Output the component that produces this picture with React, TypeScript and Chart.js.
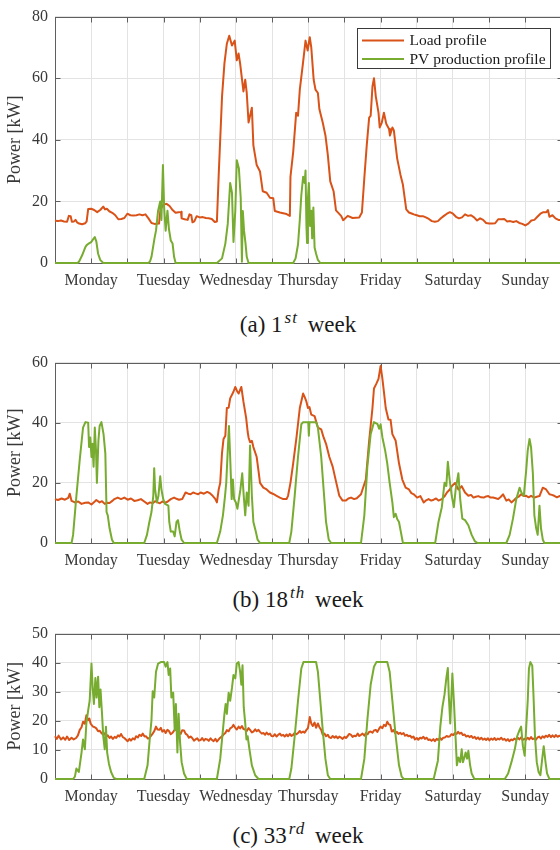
import React, { useEffect, useRef } from 'react';
import { Chart, registerables } from 'chart.js';

Chart.register(...registerables);

// ---------- data ----------
const DAYS = ['Monday', 'Tuesday', 'Wednesday', 'Thursday', 'Friday', 'Saturday', 'Sunday'];
const SERIES_LABELS = ['Load profile', 'PV production profile'];
const Y_MAX = [80, 60, 50];
const Y_STEP = [20, 20, 10];
const CAPTION_TAGS = ['(a)', '(b)', '(c)'];
const CAPTION_NUMS = ['1', '18', '33'];
const CAPTION_SUPS = ['st', 'th', 'rd'];

// [hour of week, kW]
const week1Load: [number, number][] = [[0,13.7],[1,13.6],[2,13.8],[3,13.5],[4,13.4],[4.6,15.3],[5.2,15.2],[5.6,13.4],[6.3,13.5],[6.8,14],[7.3,13.2],[8,12.8],[9,12.6],[10,12.9],[10.5,13.5],[11,17.5],[12,17.6],[13,17.2],[14,16.5],[15,17.2],[16,18.3],[16.6,17.4],[17.2,17.6],[18,16.8],[19,16.3],[20,15.5],[21,14.2],[22,14.3],[23,14.6],[24,16],[25,15.5],[26,15.4],[27,15.5],[28,15.8],[29,15.5],[30,15.8],[31,14.5],[32,13],[33,12.7],[34.5,12.8],[35,17.5],[36,19],[37,19.2],[38,18.5],[39,17.2],[40,16.3],[41,16.5],[41.8,16.6],[42,14.5],[43,14.2],[44,14],[44.6,15.8],[45.2,15.5],[45.6,13.2],[46.2,13.5],[47,15.2],[48,14.8],[49,14.9],[50,14.6],[51,14.5],[52,14.3],[53,13.3],[53.7,13.5],[54.3,28.6],[55.4,54],[56.2,64.8],[57,71.2],[57.8,73.8],[58.7,70.6],[59.6,72.2],[60.3,65.8],[60.9,68],[61.4,64.8],[62.5,55.7],[63.1,59.5],[63.6,55.2],[64.2,45.6],[65.3,50.4],[65.8,38.2],[66.9,31.8],[68,29.7],[68.9,23.3],[70.2,22.8],[71.3,21.2],[72.4,21],[72.9,16.9],[74.6,16.4],[76.8,15.9],[77.9,15.3],[78.1,28],[79,36],[80,48.8],[80.6,47.8],[81.2,56.3],[82.3,65.3],[83.1,72.2],[83.8,69],[84.5,73.3],[85,70],[85.8,59.5],[86.4,56.3],[87.2,55.2],[87.7,49.9],[88.8,45.6],[89.7,41.4],[90.5,35],[91.3,26.5],[92.4,23.3],[93.2,17.1],[94.9,15.3],[95.6,13.9],[97.1,15.3],[98.7,14.6],[100.9,14.8],[101.8,16.4],[102.6,27.6],[103.4,38.2],[104.2,47.2],[104.7,47.8],[105.3,57.3],[105.8,60],[106.4,54.1],[107.3,48.8],[107.7,44],[108.4,45.6],[109.1,48.8],[109.9,45.1],[110.8,43.5],[111.1,41.4],[111.9,44],[112.4,43],[113.5,33.9],[114.6,28.6],[115.4,25.4],[116.5,17.4],[117.4,16.4],[118.5,16],[119,15.8],[120,15.5],[121,15.2],[122,15.2],[123,14.8],[124,14.3],[125,13.6],[126,13.4],[127,13.6],[128,14.5],[129,15.3],[130,16],[131,16.5],[132,16],[133,15],[134,14.5],[135,14.8],[136,15.8],[137,15.3],[138,15.5],[139,14.8],[140,13.8],[141,14.5],[142,14],[143,13],[144,12.8],[145,12.8],[146,12.9],[147,14.2],[148,14.2],[149,14.3],[150,13.5],[151,13.6],[152,13.3],[153,13.6],[154,13],[155,12.7],[156,12.2],[157,12.8],[158,13.8],[159,14],[160,15],[161,16],[162,16.5],[163,16.5],[163.5,17.2],[164,15],[165,15.5],[166,14.5],[167,14],[168,14]];

const week1Pv: [number, number][] = [[0,0],[7.5,0],[8,0.5],[9,2.5],[10,5],[10.5,5.8],[11,6.2],[12,6.8],[12.5,7.5],[13.2,8.4],[13.7,7],[14.3,3],[15,1],[16,0],[31,0],[31.5,0.5],[32,2],[33,8],[33.5,10.5],[34.2,17],[34.9,20],[35.3,14],[35.8,31.8],[36.2,18],[36.7,10.5],[37.3,17],[37.8,11],[38.4,7.3],[39,6.3],[39.5,2],[40,0],[53.7,0],[55.4,1.5],[56.5,6.3],[57.3,12.7],[58.1,26],[58.7,22.8],[59.2,6.8],[59.8,16.9],[60.3,33.4],[61,30.7],[61.6,21.2],[62,0.4],[62.3,16.9],[62.7,10.5],[63.2,6.3],[63.6,2],[64.2,0],[79,0],[79.8,1.5],[80.6,6],[81.2,14],[81.7,22],[82.3,28],[82.8,26],[83.1,30],[83.4,12],[83.6,6.5],[83.9,21],[84.2,26],[84.6,12],[85,17],[85.3,8],[85.7,18],[86.1,5],[86.6,3],[87.2,1],[88,0],[168,0]];

const week18Load: [number, number][] = [[0,14.6],[1,14.3],[2.2,14.8],[3.3,14.4],[4.4,15],[4.9,16.4],[5.5,14],[6.6,13.5],[7.7,13.8],[8.8,13],[10,13.4],[11,13.5],[12.1,12.8],[13,13.6],[13.7,14.3],[14.8,13.5],[15.6,13.9],[16.5,13],[17.3,13.4],[18.1,13.3],[19,14],[19.7,14.6],[20.8,15.1],[21.9,14.6],[23,15.1],[24.1,14.4],[25.2,14.8],[26.3,14],[27.4,14.2],[28.5,14.6],[29.6,13.8],[30.7,13],[31.5,13.5],[32.4,13.2],[33.2,13.9],[34,13.5],[34.8,13.2],[35.6,13.8],[36.5,13.4],[37.3,13.7],[38.4,14.6],[39.5,15.1],[40.3,14.7],[41.1,14.4],[42.2,14.6],[43.3,16.8],[44.2,16.4],[45,16.2],[45.8,16.8],[46.6,16.5],[47.5,16.2],[48.3,16.8],[49.4,16.4],[50.5,17],[51.3,16.6],[52.1,15.9],[53.2,14.6],[53.7,13.5],[54.3,17.8],[54.8,20],[55.4,30],[55.9,34.6],[56.5,35.7],[57,44.9],[57.6,45],[58.1,48.1],[59.2,50.3],[59.8,51.9],[60.4,50.5],[60.9,49.7],[61.8,51.9],[62.5,47],[63.4,41.6],[63.9,37],[64.2,35.1],[64.7,33.5],[65.3,34],[65.8,31.9],[66.9,28.6],[67.5,24],[68,20],[69.1,18.4],[70.2,17.8],[71.3,16.8],[72.4,16.3],[73.5,15.7],[74.6,15.1],[75.7,14.6],[76.8,14.6],[77.3,15.7],[78.1,20],[79,26.5],[80.1,35.1],[81.2,44.9],[82.3,49.7],[82.8,48.6],[83.4,47],[83.9,44.9],[84.4,45.2],[85,42.7],[86.1,42.2],[87.2,38.4],[88.3,37.8],[89.1,35.1],[89.9,33],[91,28.6],[92.1,25.4],[93.2,20.5],[94.3,15.7],[95.4,14.1],[96.5,14.1],[97.3,14.8],[98.2,15.1],[99.2,14.6],[100.1,14.9],[101.5,16.2],[102,17.8],[103.1,21.1],[104.2,34],[105.3,44.9],[105.8,51.4],[106.6,53],[107.3,54.6],[108,58.9],[108.6,54.6],[109.1,50.3],[109.7,44.9],[110.6,41.1],[111.3,41],[111.9,36.2],[113,34],[114.1,26.5],[115.2,21.1],[116.3,18.4],[117.4,17.8],[118.2,16.6],[119,16.2],[120.1,15.1],[121.2,15.6],[122.3,13.5],[123.1,14.2],[123.9,14.6],[124.8,14.1],[125.6,14.4],[126.4,14.8],[127.2,14.1],[128.3,14.6],[129.2,15.5],[130,16.8],[130.8,17.6],[131.6,18.9],[132.7,20],[133.8,17.8],[134.9,18.9],[136,16.8],[137.1,15.7],[138,16],[138.8,15.1],[139.6,15.4],[140.4,15.6],[141.3,15.2],[142.2,15.1],[143,15.5],[143.7,15.6],[144.5,15.1],[145.3,15.1],[146.2,14.9],[147,14.6],[147.8,15.3],[148.6,16.2],[149.7,14.1],[150.5,14.5],[151.4,13.5],[152.2,14.2],[153,15],[153.8,15.4],[154.6,16.2],[155.5,15.6],[156.3,15.7],[157.1,15.2],[157.9,15.7],[159,15.1],[159.8,15.4],[160.7,15.6],[161.8,18.4],[162.9,17.8],[164,16.2],[164.8,16],[165.6,15.7],[166.5,15.2],[167.3,15.6],[168,15.5]];

const week18Pv: [number, number][] = [[0,0],[5.5,0],[6,2.7],[7.1,15.7],[8.2,27.6],[9.3,38.4],[10.1,40.2],[11,40],[11.3,31.9],[11.7,35.1],[12.1,28.6],[12.4,33],[12.8,25.4],[13.2,38.4],[13.6,30.8],[13.9,20],[14.4,34],[14.8,38.9],[15.4,40.2],[16.1,36.2],[16.7,29.7],[17.1,10.3],[17.5,9.2],[18.1,4.9],[18.9,1.1],[19.5,0],[29.6,0],[30.5,2.7],[31.3,7],[32,10.3],[32.6,15.7],[32.9,24.9],[33.2,17.8],[33.8,13.5],[34.3,15.6],[34.9,22.2],[35.3,17.8],[35.9,14.6],[36.5,13],[37.6,12.4],[37.9,7],[38.4,3.8],[39.2,3.8],[39.7,2.2],[40.3,7],[40.8,7.6],[41.4,3.8],[42,1.1],[42.8,0],[53.7,0],[54.8,3.8],[55.7,9.2],[56.4,15.7],[56.8,20],[57.3,30.8],[57.7,38.9],[58.1,28.6],[58.6,14.6],[59,21.1],[59.4,14.6],[60,13.5],[60.5,11.4],[61,14.6],[61.5,17.8],[62.1,23.2],[62.6,15.7],[63.1,9.2],[63.6,16.8],[64.2,12.4],[64.7,32.4],[65.3,15.7],[65.8,7],[66.6,3.8],[67.2,1.1],[68,0],[77.7,0],[78.4,3.8],[79.5,15.7],[80.6,28.6],[81.7,39.5],[82.3,40.2],[84,40.2],[84.2,35.7],[84.4,40.2],[86.6,40.2],[87.2,38.4],[88.3,28.6],[89.1,17.8],[89.9,7],[90.8,1.1],[91.6,0],[101.5,0],[102.6,9.2],[103.6,25.4],[104.7,36.2],[105.8,40.2],[107,39.5],[107.5,38],[108,39.5],[108.6,35.1],[109.5,30.8],[110.2,26.5],[111,20],[111.9,13.5],[112.4,8.6],[113,9.7],[113.5,8],[114.1,7],[114.7,3.8],[115.4,0],[126.1,0],[127.2,7],[128.3,11.9],[129.2,20],[129.8,19],[130.3,27],[130.9,21.1],[131.6,15.7],[132.3,11.9],[132.9,17.8],[133.8,23.2],[134.4,14.6],[135.1,8.1],[136,7.6],[137.1,5.9],[138.2,2.7],[139.3,0.5],[140.2,0],[149.7,0],[150.8,2.7],[151.9,8.1],[153,14.6],[154.1,18.4],[154.7,16.8],[155.5,15.7],[156.3,24.3],[156.8,30.8],[157.4,34.6],[157.9,31.9],[158.5,23.2],[159,9.2],[159.6,4.9],[160.1,2.7],[160.7,12.4],[161.2,4.9],[161.8,1.1],[162.3,0],[168,0]];

const week33Load: [number, number][] = [[0,14.7],[0.6,13.8],[1.2,14.9],[2,13.6],[2.7,14.3],[3.4,13.5],[4,14.6],[4.7,13.4],[5.5,14.2],[6.2,13.6],[7,14.1],[7.6,15],[8.2,16.9],[8.8,17.8],[9.3,19.7],[9.9,19],[10.4,21.9],[11,20.2],[11.4,20.8],[11.8,19.1],[12.2,18.5],[12.6,18],[13.2,17.8],[13.7,17.4],[14.3,16.4],[14.8,16.6],[15.4,15.8],[16,15.2],[16.5,15.7],[17,14.6],[17.5,15],[18.1,14.1],[18.6,14.6],[19.2,13.8],[19.8,14.5],[20.3,14.1],[20.9,15],[21.4,14.6],[21.9,15.5],[22.5,14.4],[23,14.1],[23.6,13.5],[24.1,13],[24.7,13.8],[25.2,13.2],[25.8,14],[26.4,13.6],[26.9,14.7],[27.5,14.3],[28,15.2],[28.6,14.8],[29.1,15.6],[29.7,14.6],[30.2,14.7],[30.8,13.9],[31.3,14.1],[31.9,14.9],[32.4,15.6],[32.9,16.4],[33.5,18],[34,17],[34.6,16.9],[35.1,17.6],[35.6,16.3],[36.2,16.8],[36.7,15.8],[37.3,16.9],[37.8,16.5],[38.4,15.4],[38.9,15.8],[39.5,16.6],[40,17.4],[40.5,16.2],[41.1,16.3],[41.7,15.5],[42.2,16.8],[42.8,16.7],[43.3,15.6],[43.9,15.1],[44.4,14.2],[45,14.6],[45.5,14.1],[46.1,13.2],[46.6,13.6],[47.2,14],[47.7,13.2],[48.3,13.4],[48.8,14.1],[49.4,13.2],[49.9,13.8],[50.5,13.6],[51,13.1],[51.6,14],[52.1,13.4],[52.6,13],[53.2,13.8],[53.7,12.9],[54.3,13.6],[54.8,14.2],[55.4,14.7],[55.9,15.3],[56.5,15.8],[57,16.8],[57.6,16.4],[58.1,17.4],[58.7,17.8],[59.2,18.6],[59.8,17.6],[60.3,17],[60.9,18],[61.4,17.4],[62,18.2],[62.5,17.2],[63.1,17],[63.6,16.5],[64.2,17.5],[64.7,16.9],[65.3,16],[65.8,16.3],[66.4,17.1],[66.9,16.4],[67.5,16.9],[68,16.2],[68.6,15.6],[69.1,15.8],[69.7,15.2],[70.2,16],[70.7,15.3],[71.3,15.6],[71.8,14.8],[72.4,14.7],[72.9,15.4],[73.5,14.6],[74,15.2],[74.6,15.6],[75.1,14.9],[75.7,15.2],[76.2,14.6],[76.8,15.3],[77.3,14.7],[77.9,15.5],[78.4,14.8],[79,15.2],[79.5,15.9],[80.1,15.4],[80.6,15.8],[81.2,16.5],[81.7,15.9],[82.3,16.3],[82.8,15.9],[83.4,16.9],[83.9,17.5],[84.5,21.3],[85,19.1],[85.5,18.2],[86.1,19.4],[86.6,17.6],[87.2,19.1],[87.7,17.8],[88.3,16.9],[88.8,15.2],[89.4,15.6],[89.9,14.7],[90.5,15.2],[91,14.3],[91.6,14.1],[92.1,14.8],[92.7,14.2],[93.2,14.7],[93.8,14],[94.3,14.6],[94.9,14.2],[95.4,13.8],[96,14.5],[96.5,14.1],[97.1,14.8],[97.6,15.5],[98.2,15.2],[98.7,14.5],[99.3,14.9],[99.8,14.7],[100.4,15.6],[100.9,14.8],[101.5,15.2],[102,15.6],[102.6,14.9],[103.1,15.8],[103.7,15.4],[104.2,16.2],[104.7,16.3],[105.3,15.9],[105.8,16.7],[106.4,16.9],[106.9,16.2],[107.5,17.3],[108,18],[108.6,17.5],[109.1,18.6],[109.7,18.2],[110.2,19.7],[110.7,18.8],[111.2,18.6],[111.7,16.3],[112.3,16.8],[112.8,15.8],[113.4,16.2],[113.9,15.5],[114.5,15.9],[115,15.4],[115.6,15.8],[116.1,14.9],[116.7,15.2],[117.2,14.7],[117.8,14.9],[118.3,14.2],[118.9,14.6],[119.4,13.6],[120,14.1],[120.5,13.5],[121.1,14.2],[121.6,13.9],[122.2,14.5],[122.7,13.8],[123.3,14.2],[123.8,13.4],[124.4,13.6],[124.9,13.1],[125.5,13.7],[126,13],[126.6,13.8],[127.1,13.4],[127.7,14.1],[128.2,13.5],[128.8,14.2],[129.3,14.3],[129.9,14.8],[130.4,14.5],[131,14.7],[131.5,15.4],[132.1,15.1],[132.6,15.8],[133.2,15.5],[133.7,16.2],[134.2,15.6],[134.8,15.9],[135.3,15.1],[135.9,15.3],[136.4,14.6],[137,14.9],[137.5,14.4],[138.1,14.8],[138.6,14.1],[139.2,14.5],[139.7,13.8],[140.3,14.3],[140.8,13.6],[141.4,14.2],[141.9,13.5],[142.5,13.9],[143,13.4],[143.6,14],[144.1,13.3],[144.7,13.9],[145.2,13.5],[145.8,14.1],[146.3,13.4],[146.9,13.9],[147.4,13.6],[148,14.2],[148.5,13.5],[149.1,13.8],[149.6,13.2],[150.2,13.7],[150.7,13],[151.3,13.6],[151.8,13.3],[152.4,13.9],[152.9,13.5],[153.5,14.2],[154,13.6],[154.6,14.3],[155.1,13.4],[155.7,13.8],[156.2,13.5],[156.8,14.2],[157.3,13.6],[157.9,14.4],[158.4,13.7],[159,14],[159.5,13.5],[160.1,14.3],[160.6,14.6],[161.2,13.9],[161.7,14.7],[162.3,14.2],[162.8,14.9],[163.4,14.5],[163.9,15.2],[164.5,14.4],[165,15],[165.6,14.4],[166.1,15.1],[166.7,14.5],[167.2,14.9],[168,14.6]];

const week33Pv: [number, number][] = [[0,0],[6,0],[6.6,0.8],[7.1,3.6],[7.9,2.4],[8.8,9.1],[9.3,13.6],[9.9,10.2],[10.4,19.1],[11,23.6],[11.5,26.9],[12.1,39.7],[12.5,31.3],[12.9,25.8],[13.4,34.7],[13.8,28],[14.3,35.2],[14.7,24.7],[15.1,30.8],[15.6,22.4],[16,14.7],[16.5,10.2],[16.9,18],[17.3,9.1],[17.9,5.2],[18.6,2.4],[19.5,0.4],[20.3,0],[29.6,0],[30.7,4.7],[31.5,14.7],[32,20.2],[32.4,30.2],[32.9,28],[33.5,36.9],[34.2,39.7],[35.1,40.2],[36.2,40.2],[36.7,38.6],[37.3,40.2],[37.7,35.8],[38.2,38],[38.6,28],[39.2,29.7],[39.7,16.9],[40.1,25.8],[40.6,9.1],[41,22.4],[41.5,12.4],[42,5.8],[42.8,1.9],[43.7,0],[53.7,0],[54.8,6.9],[55.6,15.8],[56.2,22.4],[56.6,25.8],[57,22.4],[57.6,29.7],[58.1,26.9],[58.7,31.3],[59.2,35.8],[59.8,34.6],[60.3,39.7],[60.9,40.2],[61.4,36.9],[61.8,32.4],[62.2,39.1],[62.6,24.7],[63.1,19.1],[63.5,13.6],[63.9,14.7],[64.5,10.2],[65.3,4.7],[66.4,1.3],[67.5,0],[77.7,0],[78.4,3.6],[79.5,14.7],[80.6,26.9],[81.7,38],[82.4,40.2],[86.6,40.2],[87.2,36.9],[88,26.9],[88.8,16.9],[89.7,6.9],[90.5,1.3],[91.3,0],[101.5,0],[102.6,6.9],[103.6,20.2],[104.7,32.4],[105.8,38.6],[106.6,40.2],[110.2,40.2],[111,36.9],[111.9,26.9],[113,14.7],[114.1,4.7],[115,0.8],[115.7,0],[125.6,0],[126.4,3.6],[127,6.3],[127.8,18],[128.5,24.7],[129.2,29.1],[129.8,34.7],[130.3,38.2],[130.6,29],[131.1,19.1],[131.5,29],[131.8,36.3],[132.3,26.9],[132.7,18],[133.3,4.7],[133.8,7.4],[134.4,5.8],[134.9,10.2],[135.3,5.8],[135.8,7.4],[136.2,9.1],[136.7,7],[137.1,9.7],[137.7,4.7],[138.2,1.9],[139.1,0],[149.2,0],[150.3,1.9],[151.4,5.8],[152.5,10.2],[153.3,14.7],[154.1,16.9],[154.6,18],[155.2,11.3],[155.8,8],[156.3,18],[156.8,26.9],[157.2,38],[157.7,40.2],[158.3,39],[158.7,29.1],[159.2,14.7],[159.8,5.8],[160.4,2.4],[161,1.3],[161.6,6.9],[162.1,11.3],[162.7,5.8],[163.2,1.9],[164,0],[168,0]];

const LOADS = [week1Load, week18Load, week33Load];
const PVS = [week1Pv, week18Pv, week33Pv];

// ---------- styling / layout ----------
const FONT = "'Liberation Serif', 'Times New Roman', serif";
const LOAD_COLOR = '#D95319';
const PV_COLOR = '#77AC30';
const AXIS_COLOR = '#5f5f5f';
const GRID_COLOR = '#e3e3e3';
const TEXT_COLOR = '#383838';
const CANVAS_W = 570;
const PANELS = [
  { top: 0, height: 293 },
  { top: 346, height: 227 },
  { top: 617, height: 192 },
];
const CAPTION_TOPS = [312.5, 588, 823.5];

const framePlugin = {
  id: 'frame',
  beforeDatasetsDraw(chart: any) {
    const { ctx, chartArea: a } = chart;
    const xs = chart.scales.x;
    const ys = chart.scales.y;
    const L = Math.round(a.left) + 0.5;
    const R = Math.round(a.right) + 0.5;
    const T = Math.round(a.top) + 0.5;
    const B = Math.round(a.bottom) + 0.5;
    const tl = 5;
    ctx.save();
    ctx.strokeStyle = AXIS_COLOR;
    ctx.lineWidth = 1;
    ctx.strokeRect(L, T, R - L, B - T);
    ctx.beginPath();
    xs.ticks.forEach((t: any) => {
      const p = Math.round(xs.getPixelForValue(t.value)) + 0.5;
      ctx.moveTo(p, T); ctx.lineTo(p, T + tl);
      ctx.moveTo(p, B); ctx.lineTo(p, B - tl);
    });
    ys.ticks.forEach((t: any) => {
      const p = Math.round(ys.getPixelForValue(t.value)) + 0.5;
      ctx.moveTo(L, p); ctx.lineTo(L + tl, p);
      ctx.moveTo(R, p); ctx.lineTo(R - tl, p);
    });
    ctx.stroke();
    ctx.restore();
  },
};

const boxLegendPlugin = {
  id: 'boxLegend',
  afterDraw(chart: any, _args: any, opts: any) {
    if (!opts || !opts.display) return;
    const { ctx, chartArea: a } = chart;
    const ds = chart.data.datasets;
    ctx.save();
    ctx.font = `15.5px ${FONT}`;
    const textW = Math.max(...ds.map((d: any) => ctx.measureText(d.label).width));
    const padL = 4.5, lineLen = 42, gap = 5.5, padR = 5;
    const w = Math.round(padL + lineLen + gap + textW + padR);
    const h = 40;
    const right = Math.round(a.right - 12) + 0.5;
    const left = right - w;
    const top = Math.round(a.top + 11) + 0.5;
    ctx.fillStyle = '#ffffff';
    ctx.fillRect(left, top, w, h);
    ctx.strokeStyle = '#3a3a3a';
    ctx.lineWidth = 1;
    ctx.strokeRect(left, top, w, h);
    const rows = [top + 12, top + 30.5];
    ds.forEach((d: any, i: number) => {
      const y = rows[i];
      ctx.strokeStyle = d.borderColor;
      ctx.lineWidth = 2;
      ctx.beginPath();
      ctx.moveTo(left + padL, y);
      ctx.lineTo(left + padL + lineLen, y);
      ctx.stroke();
      ctx.fillStyle = '#1a1a1a';
      ctx.textBaseline = 'middle';
      ctx.textAlign = 'left';
      ctx.fillText(d.label, left + padL + lineLen + gap, y + 0.5);
    });
    ctx.restore();
  },
};

function Panel({ index }: { index: number }) {
  const ref = useRef<HTMLCanvasElement>(null);
  const { top, height } = PANELS[index];
  useEffect(() => {
    if (!ref.current) return;
    const chart = new Chart(ref.current, {
      type: 'line',
      data: {
        datasets: [
          {
            label: SERIES_LABELS[0],
            data: LOADS[index] as any,
            borderColor: LOAD_COLOR,
            backgroundColor: LOAD_COLOR,
            borderWidth: 2,
            pointRadius: 0,
            tension: 0,
            borderJoinStyle: 'round',
            clip: false as any,
            order: 1,
          },
          {
            label: SERIES_LABELS[1],
            data: PVS[index] as any,
            borderColor: PV_COLOR,
            backgroundColor: PV_COLOR,
            borderWidth: 2,
            pointRadius: 0,
            tension: 0,
            borderJoinStyle: 'round',
            clip: false as any,
            order: 0,
          },
        ],
      },
      options: {
        responsive: false,
        animation: false,
        events: [],
        layout: { padding: { top: 12, right: 4.5, left: 0, bottom: 0 }, autoPadding: false } as any,
        plugins: {
          legend: { display: false },
          tooltip: { enabled: false },
          boxLegend: { display: index === 0 },
        } as any,
        scales: {
          x: {
            type: 'linear',
            min: 0,
            max: 168,
            grid: { color: GRID_COLOR, drawTicks: false, lineWidth: 1 },
            border: { display: false },
            afterFit: (s: any) => { s.height = 30; },
            ticks: {
              stepSize: 12,
              maxTicksLimit: 20,
              autoSkip: false,
              maxRotation: 0,
              minRotation: 0,
              padding: 8.5,
              color: TEXT_COLOR,
              font: { family: FONT, size: 16 },
              callback: (v: any) => {
                const n = Number(v);
                return (n - 12) % 24 === 0 ? DAYS[(n - 12) / 24] : '';
              },
            },
          },
          y: {
            type: 'linear',
            min: 0,
            max: Y_MAX[index],
            grid: { color: GRID_COLOR, drawTicks: false, lineWidth: 1 },
            border: { display: false },
            afterFit: (s: any) => { s.width = 55; },
            ticks: {
              stepSize: Y_STEP[index],
              padding: 7,
              color: TEXT_COLOR,
              font: { family: FONT, size: 16 },
            },
            title: {
              display: true,
              text: 'Power [kW]',
              color: TEXT_COLOR,
              font: { family: FONT, size: 18 },
              padding: { top: 4, bottom: 0 },
            },
          },
        },
      } as any,
      plugins: [framePlugin, boxLegendPlugin],
    });
    return () => chart.destroy();
  }, [index]);
  return (
    <div style={{ position: 'absolute', left: 0, top, width: CANVAS_W, height }}>
      <canvas ref={ref} width={CANVAS_W} height={height} style={{ width: CANVAS_W, height, display: 'block' }} />
    </div>
  );
}

function Caption({ index }: { index: number }) {
  return (
    <div
      style={{
        position: 'absolute',
        left: 0,
        width: 596,
        top: CAPTION_TOPS[index],
        textAlign: 'center',
        fontFamily: FONT,
        fontSize: 23,
        lineHeight: '23px',
        color: '#1a1a1a',
        whiteSpace: 'nowrap',
      }}
    >
      {CAPTION_TAGS[index]} {CAPTION_NUMS[index]}
      <span
        style={{
          fontStyle: 'italic',
          fontSize: 17,
          position: 'relative',
          top: -9,
          marginLeft: 2,
          marginRight: 4,
          letterSpacing: 1,
        }}
      >
        {CAPTION_SUPS[index]}
      </span>{' '}
      week
    </div>
  );
}

export default function App() {
  return (
    <div
      style={{
        position: 'absolute',
        left: 0,
        top: 0,
        width: 560,
        height: 850,
        overflow: 'hidden',
        background: '#ffffff',
      }}
    >
      {[0, 1, 2].map((i) => (
        <Panel key={`p${i}`} index={i} />
      ))}
      {[0, 1, 2].map((i) => (
        <Caption key={`c${i}`} index={i} />
      ))}
    </div>
  );
}
